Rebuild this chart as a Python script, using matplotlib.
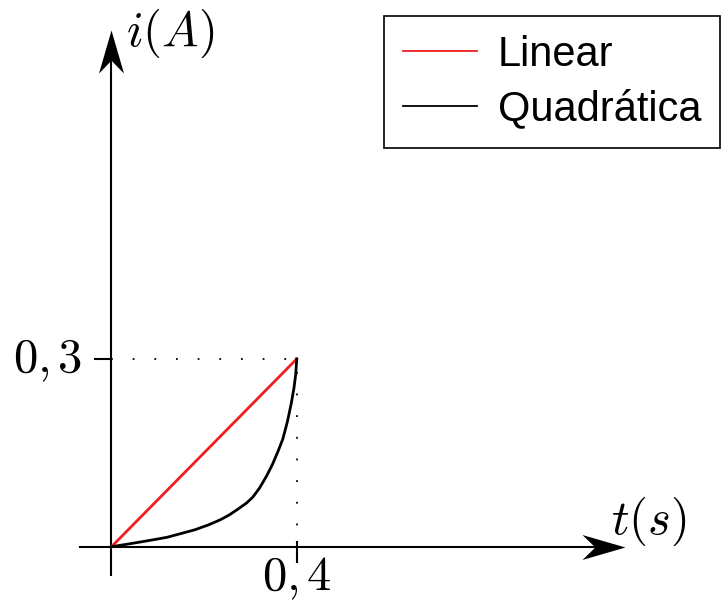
import numpy as np
import matplotlib as mpl
mpl.use('Agg')
import matplotlib.pyplot as plt
from matplotlib.path import Path

plt.rcParams['mathtext.fontset'] = 'cm'
plt.rcParams['font.family'] = ['Liberation Sans', 'DejaVu Sans']

# data
t_lin = [0.0, 0.4]
i_lin = [0.0, 0.3]
t_quad = [0.0, 0.03, 0.06, 0.09, 0.12, 0.15, 0.18, 0.21, 0.235, 0.255,
          0.275, 0.292, 0.305, 0.32, 0.335, 0.348, 0.36, 0.37, 0.38,
          0.388, 0.394, 0.398, 0.4]
i_quad = [0.0, 0.0035, 0.0072, 0.011, 0.015, 0.021, 0.027, 0.035, 0.043, 0.051,
          0.061, 0.070, 0.079, 0.094, 0.113, 0.132, 0.153, 0.172, 0.200,
          0.228, 0.253, 0.276, 0.3]
xtick = 0.4
ytick = 0.3
xtick_lbl = r'$0{,}\,4$'
ytick_lbl = r'$0{,}\,3$'
labels = ['Linear', 'Quadrática']

fig = plt.figure(figsize=(7.22, 6.02), dpi=100)
ax = fig.add_axes([0, 0, 1, 1])
ax.set_xlim(-0.2408, 1.3186)
ax.set_ylim(-0.0884, 0.8737)
ax.axis('off')

##################
## axes + arrows ##
##################
x_end, y_end = 1.109, 0.826
ax.plot([-0.068, x_end - 0.02], [0, 0], color='black', lw=1.5)
ax.plot([0, 0], [-0.045, y_end - 0.02], color='black', lw=1.5)
head_x = Path([(0, 0), (-1, 0.29), (-0.7, 0), (-1, -0.29), (0, 0)],
              [1, 2, 2, 2, 79])
head_y = Path([(0, 0), (0.29, -1), (0, -0.7), (-0.29, -1), (0, 0)],
              [1, 2, 2, 2, 79])
ax.plot(x_end, 0, marker=head_x, ms=62, color='black', mew=0, clip_on=False)
ax.plot(0, y_end, marker=head_y, ms=62, color='black', mew=0, clip_on=False)

# ticks
ax.plot([xtick, xtick], [0.007, -0.025], color='black', lw=1.5)
ax.plot([-0.035, 0], [ytick, ytick], color='black', lw=1.5)

# dotted guides
ax.plot([0, xtick], [ytick, ytick], color='black', lw=1.3, ls=(0, (1, 11)))
ax.plot([xtick, xtick], [0, ytick], color='black', lw=1.3, ls=(0, (1, 11)))

ax.plot(t_lin, i_lin, color='#f01e1e', lw=2.0, label=labels[0])
ax.plot(t_quad, i_quad, color='black', lw=2.0, label=labels[1])

ax.text(xtick, -0.069, xtick_lbl, ha='center', va='baseline', fontsize=35)
ax.text(-0.137, ytick - 0.003, ytick_lbl, ha='center', va='center', fontsize=35)
ax.text(0.126, 0.821, r'$i(A)$', ha='center', va='center', fontsize=35)
ax.text(1.161, 0.041, r'$t(s)$', ha='center', va='center', fontsize=35)

leg = ax.legend(loc='upper right', bbox_to_anchor=(0.997, 0.973),
                bbox_transform=fig.transFigure, fontsize=30, frameon=True,
                fancybox=False, framealpha=1, edgecolor='black',
                handlelength=1.77, handletextpad=0.5, labelspacing=0.35,
                borderpad=0.45, borderaxespad=0)
leg.get_frame().set_linewidth(1.2)
for ln in leg.get_lines():
    ln.set_linewidth(1.3)

fig.savefig('out.png', dpi=100)
